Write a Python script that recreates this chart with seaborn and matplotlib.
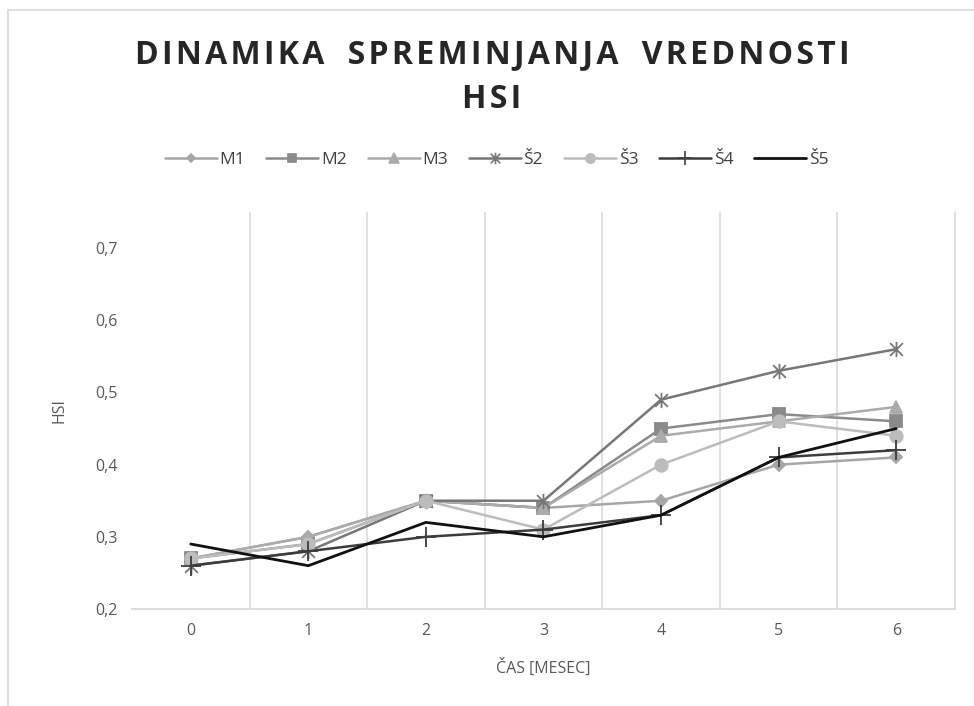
import pandas as pd
import matplotlib.pyplot as plt
import seaborn as sns
from matplotlib.path import Path
from matplotlib.lines import Line2D

# Data
months = [0, 1, 2, 3, 4, 5, 6]
m1 = [0.27, 0.30, 0.35, 0.34, 0.35, 0.40, 0.41]
m2 = [0.27, 0.29, 0.35, 0.34, 0.45, 0.47, 0.46]
m3 = [0.27, 0.30, 0.35, 0.34, 0.44, 0.46, 0.48]
s2 = [0.26, 0.28, 0.35, 0.35, 0.49, 0.53, 0.56]
s3 = [0.27, 0.29, 0.35, 0.31, 0.40, 0.46, 0.44]
s4 = [0.26, 0.28, 0.30, 0.31, 0.33, 0.41, 0.42]
s5 = [0.29, 0.26, 0.32, 0.30, 0.33, 0.41, 0.45]
series_names = ['M1', 'M2', 'M3', 'Š2', 'Š3', 'Š4', 'Š5']
y_ticks = [0.2, 0.3, 0.4, 0.5, 0.6, 0.7]
y_tick_labels = ['0,2', '0,3', '0,4', '0,5', '0,6', '0,7']
title_lines = ['DINAMIKA SPREMINJANJA VREDNOSTI', 'HSI']

df = pd.DataFrame({'month': months, 'M1': m1, 'M2': m2, 'M3': m3,
                   'Š2': s2, 'Š3': s3, 'Š4': s4, 'Š5': s5})
long_df = df.melt(id_vars='month', var_name='series', value_name='hsi')

# Excel-like "star" marker: an X with a vertical bar
star = Path([(-1, -1), (1, 1), (-1, 1), (1, -1), (0, -1.2), (0, 1.2)],
            [Path.MOVETO, Path.LINETO, Path.MOVETO, Path.LINETO, Path.MOVETO, Path.LINETO])

styles = {
    'M1': dict(color='#a6a6a6', marker='D', ms=6),
    'M2': dict(color='#8a8a8a', marker='s', ms=8),
    'M3': dict(color='#ababab', marker='^', ms=9),
    'Š2': dict(color='#777777', marker=star, ms=11),
    'Š3': dict(color='#bcbcbc', marker='o', ms=9),
    'Š4': dict(color='#3c3c3c', marker='+', ms=14),
    'Š5': dict(color='#111111', marker='', ms=0),
}

sns.set_theme(style='white')
plt.rcParams['font.family'] = ['Open Sans', 'DejaVu Sans']

fig = plt.figure(figsize=(9.74, 7.06), dpi=100)
ax = fig.add_axes([0.1355, 0.1374, 0.845, 0.5623])

handles = []
for name in series_names:
    st = styles[name]
    lw = 2.0 if name == 'Š5' else 1.8
    sub = long_df[long_df['series'] == name]
    sns.lineplot(data=sub, x='month', y='hsi', ax=ax, color=st['color'],
                 linewidth=lw,
                 marker=st['marker'] if st['marker'] else None,
                 markersize=st['ms'], markeredgecolor=st['color'],
                 markerfacecolor=st['color'], markeredgewidth=1.3,
                 legend=False)
    handles.append(Line2D([], [], color=st['color'], linewidth=lw,
                          marker=st['marker'] if st['marker'] else None,
                          markersize=st['ms'] * 0.75, markeredgecolor=st['color'],
                          markerfacecolor=st['color'], markeredgewidth=1.2,
                          label=name))

ax.set_xlim(-0.5, 6.5)
ax.set_ylim(0.2, 0.75)
ax.set_xticks(months)
ax.set_xticklabels([str(m) for m in months])
ax.set_yticks(y_ticks)
ax.set_yticklabels(y_tick_labels)
ax.tick_params(axis='both', length=0, labelsize=11.5, labelcolor='#595959', pad=10)

# vertical gridlines between categories
for b in [0.5, 1.5, 2.5, 3.5, 4.5, 5.5]:
    ax.axvline(b, color='#d9d9d9', linewidth=1.1, zorder=0)
for side in ['top', 'left']:
    ax.spines[side].set_visible(False)
ax.spines['bottom'].set_color('#d9d9d9')
ax.spines['bottom'].set_linewidth(1.3)
ax.spines['right'].set_color('#d9d9d9')
ax.spines['right'].set_linewidth(1.1)

ax.set_xlabel('ČAS [MESEC]', fontsize=11.5, color='#595959', labelpad=14)
ax.set_ylabel('HSI', fontsize=11.5, color='#595959', labelpad=20)

# spaced-out title, as in the original
hair = '\u200a'
for i, line in enumerate(title_lines):
    spaced = hair.join(line).replace(' ', '  ')
    fig.text(0.505, 1 - (55 + 45 * i) / 706, spaced, ha='center', va='center',
             fontsize=23, fontweight='bold', color='#262626')

fig.legend(handles=handles, loc='center', bbox_to_anchor=(0.51, 1 - 160 / 706),
           ncol=7, frameon=False, fontsize=12.5, handlelength=3.0, handletextpad=0.15,
           columnspacing=1.2, labelcolor='#404040')

# outer chart frame (top and left edges visible)
fig.add_artist(Line2D([8 / 974, 1], [1 - 10 / 706, 1 - 10 / 706], color='#d9d9d9', linewidth=1.2))
fig.add_artist(Line2D([8 / 974, 8 / 974], [0, 1 - 10 / 706], color='#d9d9d9', linewidth=1.2))

fig.savefig('out.png', dpi=100)
